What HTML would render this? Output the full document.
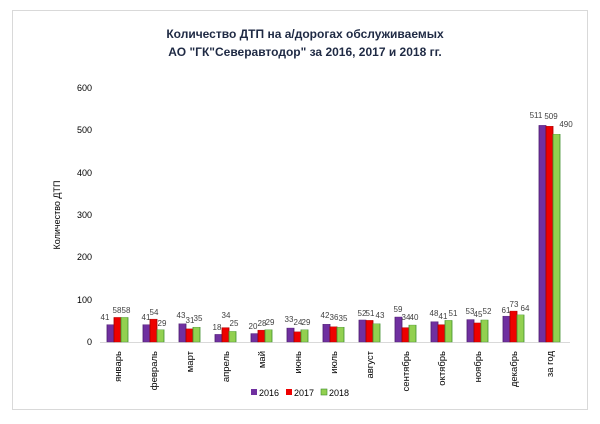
<!DOCTYPE html>
<html><head><meta charset="utf-8"><style>
body{margin:0;background:#fff;}
svg{display:block;font-family:"Liberation Sans","DejaVu Sans",sans-serif;}
</style></head><body>
<svg width="600" height="424" viewBox="0 0 600 424" xmlns="http://www.w3.org/2000/svg">
<rect x="0" y="0" width="600" height="424" fill="#fff"/>
<rect x="12.5" y="10.5" width="575" height="399" fill="none" stroke="#d9d9d9"/>
<text x="305" y="38" text-anchor="middle" font-size="12" font-weight="bold" fill="#1f2a44">Количество ДТП на а/дорогах обслуживаемых</text>
<text x="305" y="56" text-anchor="middle" font-size="12" font-weight="bold" fill="#1f2a44">АО "ГК"Северавтодор" за 2016, 2017 и 2018 гг.</text>
<g font-size="9" fill="#000" text-anchor="end">
<text x="92" y="345">0</text><text x="92" y="303">100</text><text x="92" y="260">200</text><text x="92" y="218">300</text><text x="92" y="176">400</text><text x="92" y="133">500</text><text x="92" y="91">600</text>
</g>
<text transform="translate(60,215) rotate(-90)" text-anchor="middle" font-size="9">Количество ДТП</text>
<line x1="100" y1="342.5" x2="570" y2="342.5" stroke="#d9d9d9"/>
<g transform="translate(0,342) scale(1,-0.424)" stroke-width="0.8">
<g fill="#7030a0" stroke="#4b1d6e">
<rect x="107" y="0" width="7" height="41"/><rect x="143" y="0" width="7" height="41"/><rect x="179" y="0" width="7" height="43"/><rect x="215" y="0" width="7" height="18"/><rect x="251" y="0" width="7" height="20"/><rect x="287" y="0" width="7" height="33"/><rect x="323" y="0" width="7" height="42"/><rect x="359" y="0" width="7" height="52"/><rect x="395" y="0" width="7" height="59"/><rect x="431" y="0" width="7" height="48"/><rect x="467" y="0" width="7" height="53"/><rect x="503" y="0" width="7" height="61"/><rect x="539" y="0" width="7" height="511"/>
</g>
<g fill="#ee0000" stroke="#a00000">
<rect x="114" y="0" width="7" height="58"/><rect x="150" y="0" width="7" height="54"/><rect x="186" y="0" width="7" height="31"/><rect x="222" y="0" width="7" height="34"/><rect x="258" y="0" width="7" height="28"/><rect x="294" y="0" width="7" height="24"/><rect x="330" y="0" width="7" height="36"/><rect x="366" y="0" width="7" height="51"/><rect x="402" y="0" width="7" height="34"/><rect x="438" y="0" width="7" height="41"/><rect x="474" y="0" width="7" height="45"/><rect x="510" y="0" width="7" height="73"/><rect x="546" y="0" width="7" height="509"/>
</g>
<g fill="#92d050" stroke="#3e8e2e">
<rect x="121" y="0" width="7" height="58"/><rect x="157" y="0" width="7" height="29"/><rect x="193" y="0" width="7" height="35"/><rect x="229" y="0" width="7" height="25"/><rect x="265" y="0" width="7" height="29"/><rect x="301" y="0" width="7" height="29"/><rect x="337" y="0" width="7" height="35"/><rect x="373" y="0" width="7" height="43"/><rect x="409" y="0" width="7" height="40"/><rect x="445" y="0" width="7" height="51"/><rect x="481" y="0" width="7" height="52"/><rect x="517" y="0" width="7" height="64"/><rect x="553" y="0" width="7" height="490"/>
</g>
</g>
<g font-size="8" fill="#404040" text-anchor="middle">
<text x="105" y="320">41</text><text x="117" y="313">58</text><text x="126" y="313">58</text>
<text x="146" y="320">41</text><text x="154" y="315">54</text><text x="162" y="326">29</text>
<text x="181" y="318">43</text><text x="190" y="323">31</text><text x="198" y="321">35</text>
<text x="217" y="330">18</text><text x="226" y="318">34</text><text x="234" y="326">25</text>
<text x="253" y="329">20</text><text x="262" y="326">28</text><text x="270" y="325">29</text>
<text x="289" y="322">33</text><text x="298" y="325">24</text><text x="306" y="325">29</text>
<text x="325" y="318">42</text><text x="334" y="320">36</text><text x="343" y="321">35</text>
<text x="362" y="316">52</text><text x="370" y="316">51</text><text x="380" y="318">43</text>
<text x="398" y="312">59</text><text x="406" y="320">34</text><text x="414" y="320">40</text>
<text x="434" y="316">48</text><text x="443" y="319">41</text><text x="453" y="316">51</text>
<text x="470" y="314">53</text><text x="478" y="317">45</text><text x="487" y="314">52</text>
<text x="506" y="313">61</text><text x="514" y="307">73</text><text x="525" y="311">64</text>
<text x="536" y="118">511</text><text x="551" y="119">509</text><text x="566" y="127">490</text>
</g>
<g font-size="9.5" fill="#000" text-anchor="end">
<text transform="translate(121,351) rotate(-90)">январь</text>
<text transform="translate(157,351) rotate(-90)">февраль</text>
<text transform="translate(193,351) rotate(-90)">март</text>
<text transform="translate(229,351) rotate(-90)">апрель</text>
<text transform="translate(265,351) rotate(-90)">май</text>
<text transform="translate(301,351) rotate(-90)">июнь</text>
<text transform="translate(337,351) rotate(-90)">июль</text>
<text transform="translate(373,351) rotate(-90)">август</text>
<text transform="translate(409,351) rotate(-90)">сентябрь</text>
<text transform="translate(445,351) rotate(-90)">октябрь</text>
<text transform="translate(481,351) rotate(-90)">ноябрь</text>
<text transform="translate(517,351) rotate(-90)">декабрь</text>
<text transform="translate(553,351) rotate(-90)">за год</text>
</g>
<g font-size="9" fill="#000">
<rect x="251" y="389" width="6" height="6" fill="#7030a0"/><text x="259" y="396">2016</text>
<rect x="286" y="389" width="6" height="6" fill="#ee0000"/><text x="294" y="396">2017</text>
<rect x="321" y="389" width="6" height="6" fill="#92d050" stroke="#3e8e2e" stroke-width="0.6"/><text x="329" y="396">2018</text>
</g>
</svg>
</body></html>
